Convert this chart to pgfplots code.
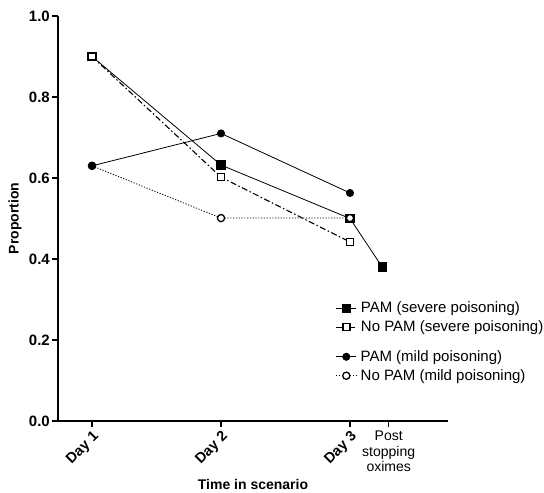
\documentclass[border=0pt]{standalone}
\usepackage{pgfplots}
\pgfplotsset{compat=1.18}
\usepackage{fontspec}
\setmainfont{Liberation Sans}
\begin{document}
\fontsize{14bp}{16bp}\selectfont
\begin{tikzpicture}[x=1bp,y=1bp]
\path[use as bounding box] (0,0) rectangle (544,493);
\pgfplotsset{
  base/.style={
    at={(58bp,72bp)}, anchor=south west,
    width=390bp, height=405bp, scale only axis,
    xmin=0.736, xmax=3.76, ymin=0, ymax=1,
    clip=false,
    legend image code/.code={\draw[mark repeat=2, mark phase=2, ##1] plot coordinates {(0bp,0bp)(10bp,0bp)(20bp,0bp)};},
    legend style={draw=none, fill=none, inner sep=0pt, font=\fontsize{15bp}{17bp}\selectfont,
      row sep=2bp, legend cell align=left, anchor=north west,
      nodes={inner xsep=4bp}},
  },
}
\begin{axis}[base,
  axis lines=left, axis line style={-, line width=1.6bp},
  tick align=outside, major tick length=6bp,
  every tick/.style={line width=1.6bp, black},
  xtick={1,2,3,3.30}, xticklabels={Day 1, Day 2, Day 3, {}},
  x tick label style={rotate=45, anchor=north east, font=\fontsize{14.5bp}{16bp}\selectfont\bfseries, inner sep=2bp},
  ytick={0,0.2,0.4,0.6,0.8,1.0},
  y tick label style={/pgf/number format/fixed, /pgf/number format/fixed zerofill, /pgf/number format/precision=1, /pgf/number format/assume math mode=true, font=\fontsize{15bp}{17bp}\selectfont\bfseries, inner sep=2bp},
  ylabel={Proportion},
  ylabel style={at={(axis description cs:-0.110,0.5)}, anchor=center, font=\fontsize{14bp}{16bp}\selectfont\bfseries},
  xlabel={Time in scenario},
  xlabel style={at={(axis description cs:0.5,-0.156)}, anchor=center, font=\fontsize{14bp}{16bp}\selectfont\bfseries},
  legend style={at={(axis description cs:0.712,0.300)}},
]
\addplot[black, line width=0.8bp, mark=square*, mark size=4.2bp] coordinates {(1,0.9)(2,0.632)(3,0.5)(3.25,0.38)};
\addlegendentry{PAM (severe poisoning)}
\addplot[black, line width=1.1bp, dash pattern=on 6bp off 2.5bp on 1.5bp off 2.5bp, mark=square*, mark size=3.5bp, mark options={solid, fill=white, line width=1.3bp}] coordinates {(1,0.9)(2,0.602)(3,0.442)};
\addlegendentry{No PAM (severe poisoning)}
\node[anchor=north, align=center, inner sep=0pt, font=\fontsize{14bp}{15.5bp}\selectfont] at (axis cs:3.30,0) [yshift=-10bp] {Post\\stopping\\oximes};
\end{axis}
\begin{axis}[base, hide axis]
\addplot[black, line width=0.8bp, dash pattern=on 1.2bp off 1.6bp, mark=*, mark size=3.6bp, mark options={solid, fill=white, line width=1.3bp}] coordinates {(1,0.63)(2,0.501)(3,0.501)};
\addplot[black, line width=0.8bp, mark=*, mark size=3.6bp] coordinates {(1,0.63)(2,0.71)(3,0.563)};
\end{axis}
\begin{axis}[base, hide axis,
  legend style={at={(axis description cs:0.712,0.180)}},
]
\addlegendimage{black, line width=0.8bp, mark=*, mark size=3.6bp}
\addlegendentry{PAM (mild poisoning)}
\addlegendimage{black, line width=0.8bp, dash pattern=on 1.2bp off 1.6bp, mark=*, mark size=3.6bp, mark options={solid, fill=white, line width=1.3bp}}
\addlegendentry{No PAM (mild poisoning)}
\end{axis}
\end{tikzpicture}
\end{document}
